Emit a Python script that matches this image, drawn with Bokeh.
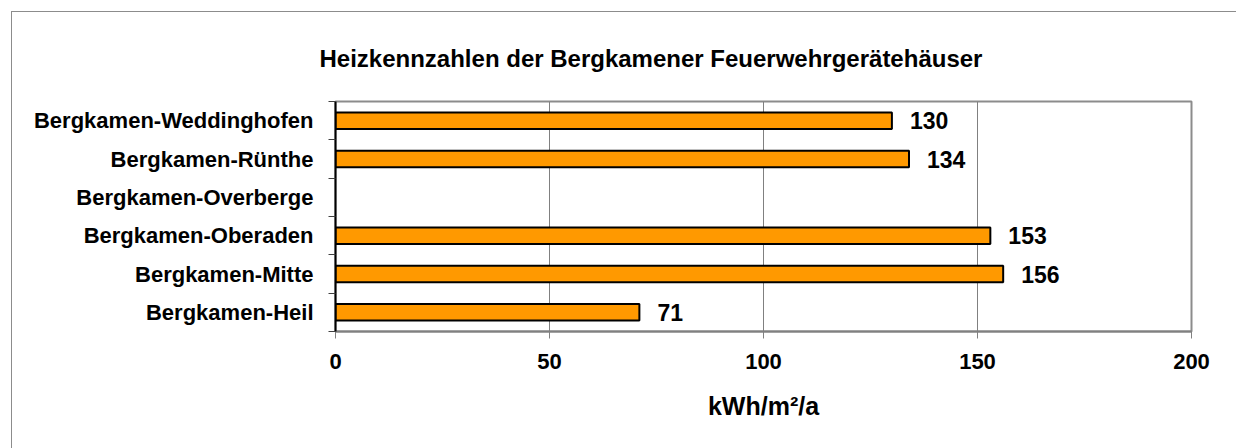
from bokeh.plotting import figure
from bokeh.models import FixedTicker, ColumnDataSource, Range1d, Title
from bokeh.embed import file_html
from bokeh.resources import INLINE

categories = ["Bergkamen-Heil", "Bergkamen-Mitte", "Bergkamen-Oberaden",
              "Bergkamen-Overberge", "Bergkamen-Rünthe", "Bergkamen-Weddinghofen"]
values = [71, 156, 153, None, 134, 130]
x_ticks = [0, 50, 100, 150, 200]
title_text = "Heizkennzahlen der Bergkamener Feuerwehrgerätehäuser"
x_label = "kWh/m²/a"

FONT = "Liberation Sans"

pos = [i for i, v in enumerate(values) if v is not None]
src = ColumnDataSource(dict(
    y=pos,
    v=[values[i] for i in pos],
    lbl=[str(values[i]) for i in pos],
))

p = figure(width=1240, height=445, output_backend="svg", toolbar_location=None,
           x_range=Range1d(0, 200), y_range=Range1d(-0.5, len(categories) - 0.5),
           min_border_left=323, min_border_right=61, min_border_top=86, min_border_bottom=126)
p.styles = {"margin-left": "11px", "margin-top": "11px",
            "border-left": "1px solid #8c8c8c", "border-top": "1px solid #8c8c8c"}

p.title = Title(text=title_text, align="left", offset=-16,
                text_font=FONT, text_font_size="24px", text_font_style="bold",
                text_color="black", standoff=60)

p.hbar(y="y", right="v", left=0, height=0.43, source=src,
       fill_color="#FF9900", line_color="black", line_width=2)
p.text(x="v", y="y", text="lbl", source=src, x_offset=18,
       text_baseline="middle", text_align="left",
       text_font=dict(value=FONT), text_font_size="23px", text_font_style="bold",
       text_color="black")

# y axis
yax = p.yaxis[0]
yax.ticker = FixedTicker(ticks=list(range(len(categories))),
                         minor_ticks=[i - 0.5 for i in range(len(categories) + 1)])
yax.major_label_overrides = {i: c for i, c in enumerate(categories)}
yax.major_tick_out = 0
yax.major_tick_in = 0
yax.minor_tick_out = 7
yax.minor_tick_in = 0
yax.minor_tick_line_color = "#404040"
yax.axis_line_color = "black"
yax.axis_line_width = 2
yax.major_label_standoff = 15
yax.major_label_text_font = FONT
yax.major_label_text_font_size = "22px"
yax.major_label_text_font_style = "bold"
yax.major_label_text_color = "black"

# x axis
xax = p.xaxis[0]
xax.ticker = FixedTicker(ticks=x_ticks, minor_ticks=[])
xax.major_tick_out = 7
xax.major_tick_in = 0
xax.major_tick_line_color = "#808080"
xax.axis_line_color = "#808080"
xax.axis_line_width = 2
xax.major_label_standoff = 15
xax.major_label_text_font = FONT
xax.major_label_text_font_size = "22px"
xax.major_label_text_font_style = "bold"
xax.major_label_text_color = "black"
xax.axis_label = x_label
xax.axis_label_text_font = FONT
xax.axis_label_text_font_size = "25px"
xax.axis_label_text_font_style = "bold"
xax.axis_label_text_color = "black"
xax.axis_label_standoff = 20

p.xgrid.ticker = FixedTicker(ticks=x_ticks)
p.xgrid.grid_line_color = "#808080"
p.ygrid.visible = False
p.outline_line_color = "#8c8c8c"
p.outline_line_width = 2
p.background_fill_color = "white"
p.border_fill_color = "white"

open("out.html", "w").write(file_html(p, INLINE))
